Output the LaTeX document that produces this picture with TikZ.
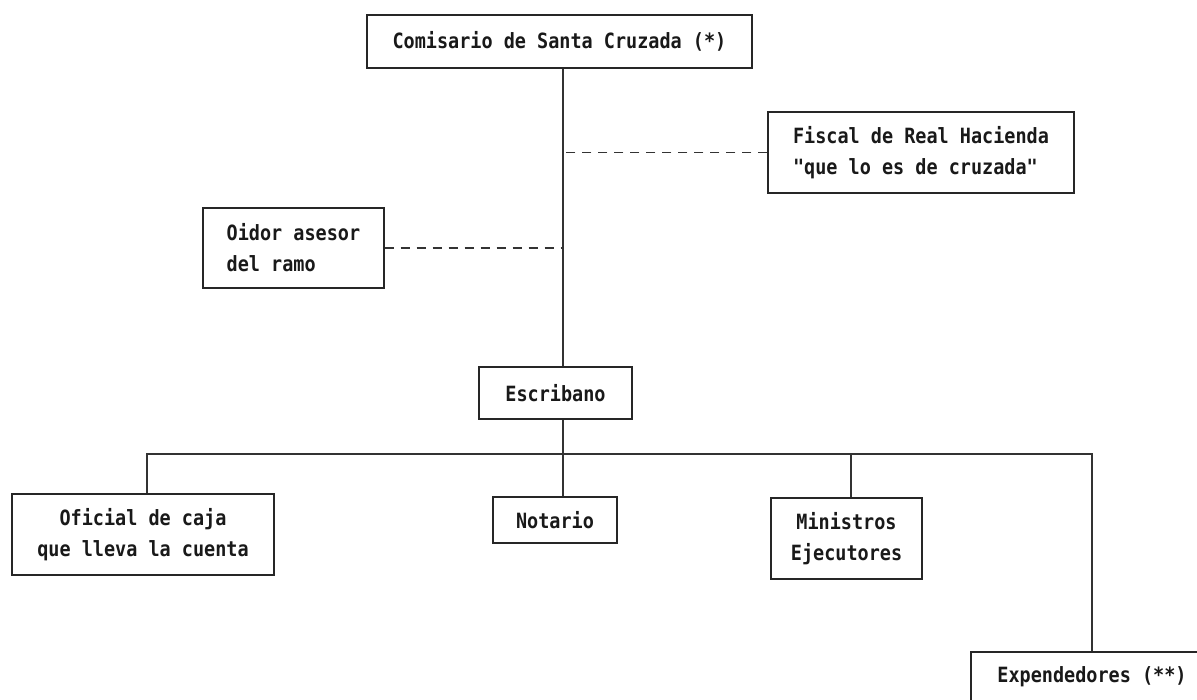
\documentclass[tikz,border=0pt]{standalone}
\usepackage{fontspec}
\newfontfamily\orgfont[FakeStretch=0.88]{DejaVu Sans Mono}
\begin{document}
\begin{tikzpicture}[x=1pt,y=-1pt,
  line width=1.3pt,
  box/.style={draw=black!85, rectangle, inner sep=0pt, anchor=center,
    font=\orgfont\bfseries\fontsize{21}{31}\selectfont, text=black!90},
  link/.style={draw=black!80, line width=1.2pt},
  adviser/.style={link, dash pattern=on 9pt off 7pt}]
\useasboundingbox (0,0) rectangle (1197,700);
\clip (0,0) rectangle (1197,700);

% boxes of the chart
\node[box, minimum width=385pt, minimum height=53pt] (com) at (559.5,41.5)
  {Comisario de Santa Cruzada (*)};
\node[box, minimum width=306pt, minimum height=81pt, align=left] (fis) at (921,152.5)
  {Fiscal de Real Hacienda\\"que lo es de cruzada"};
\node[box, minimum width=181pt, minimum height=80pt, align=left] (oid) at (293.5,248)
  {Oidor asesor\\del ramo};
\node[box, minimum width=153pt, minimum height=52pt] (esc) at (555.5,393)
  {Escribano};
\node[box, minimum width=262pt, minimum height=81pt, align=center] (ofi) at (143,534.5)
  {Oficial de caja\\que lleva la cuenta};
\node[box, minimum width=124pt, minimum height=46pt] (not) at (555,520)
  {Notario};
\node[box, minimum width=151pt, minimum height=81pt, align=center] (min) at (846.5,538.5)
  {Ministros\\Ejecutores};
\node[box, minimum width=242pt, minimum height=50pt] (exp) at (1092,677)
  {Expendedores (**)};

% trunk and bus positions
\coordinate (t) at (563,0);
\coordinate (bo) at (147,454);
\coordinate (bn) at (563,454);
\coordinate (bm) at (851,454);
\coordinate (be) at (1092,454);

% main line of command
\draw[link] (com.south -| t) -- (esc.north -| t);
\draw[adviser] (fis.west) -- (fis.west -| t);
\draw[adviser] (oid.east) -- (oid.east -| t);

% subordinates of the Escribano
\draw[link] (esc.south -| t) -- (bn);
\draw[link] (ofi.north -| bo) -- (bo) -- (be) -- (exp.north -| be);
\draw[link] (bn) -- (not.north -| bn);
\draw[link] (bm) -- (min.north -| bm);
\end{tikzpicture}
\end{document}
